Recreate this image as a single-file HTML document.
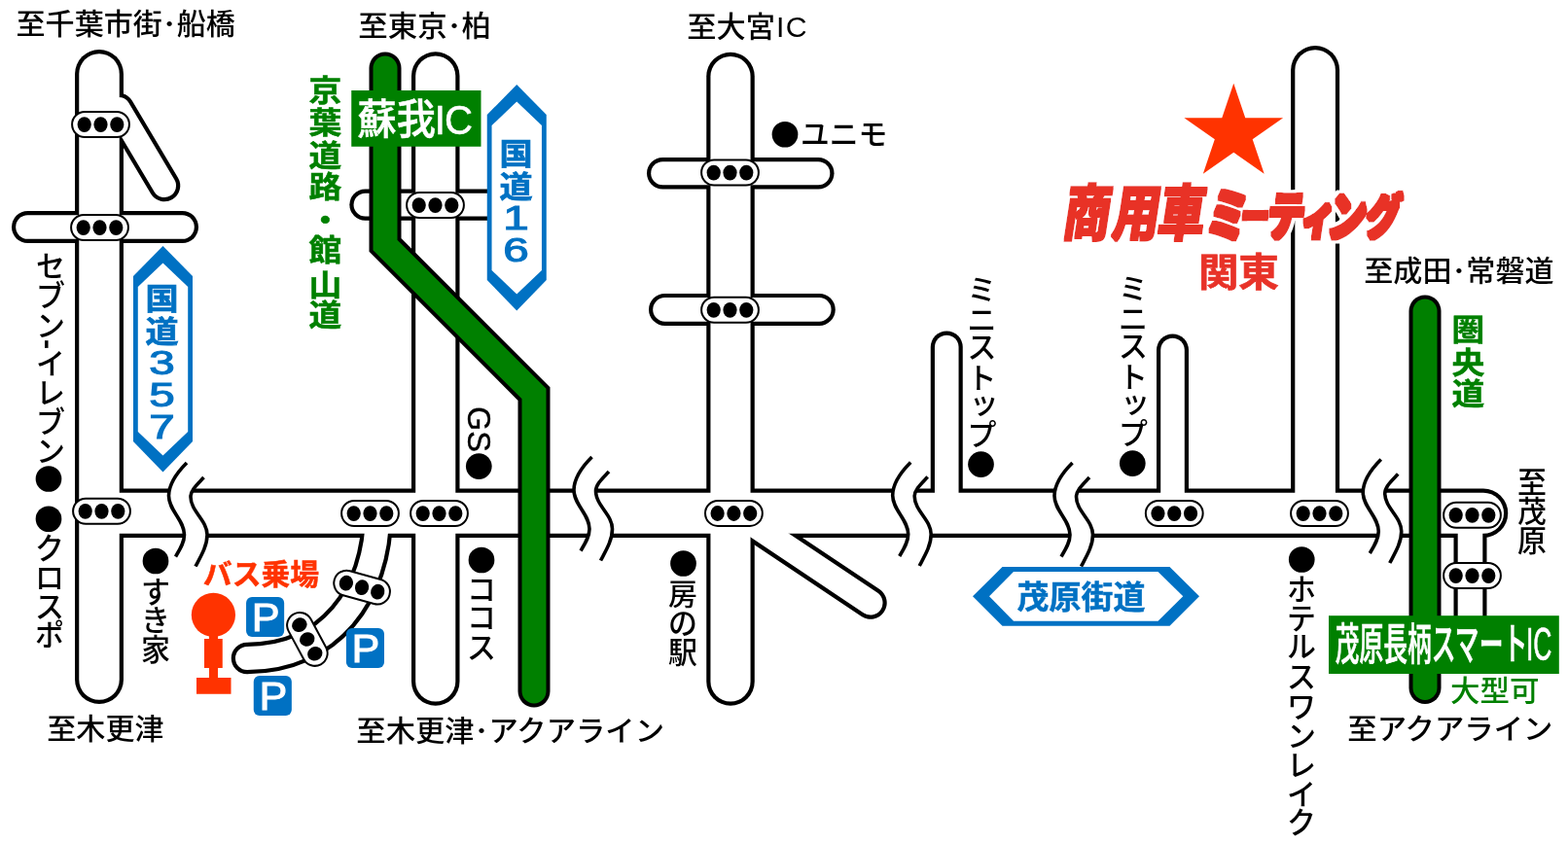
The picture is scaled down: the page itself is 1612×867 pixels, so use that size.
<!DOCTYPE html>
<html lang="ja"><head><meta charset="utf-8"><title>アクセスマップ</title>
<style>
html,body{margin:0;padding:0;background:#fff}
body{width:1612px;height:867px;overflow:hidden}
svg{display:block;font-family:"Liberation Sans", "Noto Sans CJK JP", sans-serif;will-change:transform}
</style></head><body>
<svg width="1612" height="867" viewBox="0 0 1612 867">
<rect width="1612" height="867" fill="#fff"/>
<g fill="none" stroke-linecap="round" stroke-linejoin="round">
<g stroke="#000">
<path d="M102,76 V699" stroke-width="49.9"/>
<path d="M122,112 L169,191" stroke-width="32.5"/>
<path d="M28.5,233.5 H187.5" stroke-width="33"/>
<path d="M102,527.75 H1525" stroke-width="50.5"/>
<path d="M447.75,78 V701" stroke-width="49.5"/>
<path d="M375.5,210.6 H520" stroke-width="32.3"/>
<path d="M751,78.5 V701" stroke-width="49.5"/>
<path d="M681.25,178.25 H841.25" stroke-width="32.5"/>
<path d="M683.5,318.4 H842.25" stroke-width="33"/>
<path d="M764,532.4 L895,620" stroke-width="33.4"/>
<path d="M973.25,357 V527" stroke-width="33"/>
<path d="M1205.5,360 V527" stroke-width="33"/>
<path d="M1352.1,72 V527" stroke-width="50"/>
<path d="M1511.5,527 V650" stroke-width="34"/>
<path d="M388,527 C388,612 338,677 254,677" stroke-width="32.5"/>
</g>
<g stroke="#fff">
<path d="M102,76 V699" stroke-width="41.50"/>
<path d="M122,112 L169,191" stroke-width="24.10"/>
<path d="M28.5,233.5 H187.5" stroke-width="24.60"/>
<path d="M102,527.75 H1525" stroke-width="42.10"/>
<path d="M447.75,78 V701" stroke-width="41.10"/>
<path d="M375.5,210.6 H520" stroke-width="23.90"/>
<path d="M751,78.5 V701" stroke-width="41.10"/>
<path d="M681.25,178.25 H841.25" stroke-width="24.10"/>
<path d="M683.5,318.4 H842.25" stroke-width="24.60"/>
<path d="M764,532.4 L895,620" stroke-width="25.00"/>
<path d="M973.25,357 V527" stroke-width="24.60"/>
<path d="M1205.5,360 V527" stroke-width="24.60"/>
<path d="M1352.1,72 V527" stroke-width="41.60"/>
<path d="M1511.5,527 V650" stroke-width="25.60"/>
<path d="M388,527 C388,612 338,677 254,677" stroke-width="24.10"/>
</g>
</g>
<g fill="none" stroke-linecap="round" stroke-linejoin="miter" stroke-miterlimit="10">
<path d="M396,70 V252 L549,405 V711" stroke="#000" stroke-width="33"/>
<path d="M396,70 V252 L549,405 V711" stroke="#008000" stroke-width="25"/>
<path d="M1465,320 V707.5" stroke="#000" stroke-width="33"/>
<path d="M1465,320 V707.5" stroke="#008000" stroke-width="25"/>
</g>
<g transform="translate(0,0)">
<path d="M192,476 C183,485 173.5,497 173.5,510 C173.5,525 189.5,535 189.5,550 C189.5,558 185,565 180.5,572.5 L201,582.5 C206,573 213,562 213,550 C213,535 196,526 196,511 C196,504 203,498 209.5,491 Z" fill="#fff"/>
<path d="M192,476 C183,485 173.5,497 173.5,510 C173.5,525 189.5,535 189.5,550 C189.5,558 185,565 180.5,572.5" fill="none" stroke="#000" stroke-width="3.6"/>
<path d="M209.5,491 C203,498 196,504 196,511 C196,526 213,535 213,550 C213,562 206,573 201,582.5" fill="none" stroke="#000" stroke-width="3.6"/>
</g>
<g transform="translate(416.5,-6)">
<path d="M192,476 C183,485 173.5,497 173.5,510 C173.5,525 189.5,535 189.5,550 C189.5,558 185,565 180.5,572.5 L201,582.5 C206,573 213,562 213,550 C213,535 196,526 196,511 C196,504 203,498 209.5,491 Z" fill="#fff"/>
<path d="M192,476 C183,485 173.5,497 173.5,510 C173.5,525 189.5,535 189.5,550 C189.5,558 185,565 180.5,572.5" fill="none" stroke="#000" stroke-width="3.6"/>
<path d="M209.5,491 C203,498 196,504 196,511 C196,526 213,535 213,550 C213,562 206,573 201,582.5" fill="none" stroke="#000" stroke-width="3.6"/>
</g>
<g transform="translate(744.2,-0.5)">
<path d="M192,476 C183,485 173.5,497 173.5,510 C173.5,525 189.5,535 189.5,550 C189.5,558 185,565 180.5,572.5 L201,582.5 C206,573 213,562 213,550 C213,535 196,526 196,511 C196,504 203,498 209.5,491 Z" fill="#fff"/>
<path d="M192,476 C183,485 173.5,497 173.5,510 C173.5,525 189.5,535 189.5,550 C189.5,558 185,565 180.5,572.5" fill="none" stroke="#000" stroke-width="3.6"/>
<path d="M209.5,491 C203,498 196,504 196,511 C196,526 213,535 213,550 C213,562 206,573 201,582.5" fill="none" stroke="#000" stroke-width="3.6"/>
</g>
<g transform="translate(910.5,0)">
<path d="M192,476 C183,485 173.5,497 173.5,510 C173.5,525 189.5,535 189.5,550 C189.5,558 185,565 180.5,572.5 L201,582.5 C206,573 213,562 213,550 C213,535 196,526 196,511 C196,504 203,498 209.5,491 Z" fill="#fff"/>
<path d="M192,476 C183,485 173.5,497 173.5,510 C173.5,525 189.5,535 189.5,550 C189.5,558 185,565 180.5,572.5" fill="none" stroke="#000" stroke-width="3.6"/>
<path d="M209.5,491 C203,498 196,504 196,511 C196,526 213,535 213,550 C213,562 206,573 201,582.5" fill="none" stroke="#000" stroke-width="3.6"/>
</g>
<g transform="translate(1227.75,-3.5)">
<path d="M192,476 C183,485 173.5,497 173.5,510 C173.5,525 189.5,535 189.5,550 C189.5,558 185,565 180.5,572.5 L201,582.5 C206,573 213,562 213,550 C213,535 196,526 196,511 C196,504 203,498 209.5,491 Z" fill="#fff"/>
<path d="M192,476 C183,485 173.5,497 173.5,510 C173.5,525 189.5,535 189.5,550 C189.5,558 185,565 180.5,572.5" fill="none" stroke="#000" stroke-width="3.6"/>
<path d="M209.5,491 C203,498 196,504 196,511 C196,526 213,535 213,550 C213,562 206,573 201,582.5" fill="none" stroke="#000" stroke-width="3.6"/>
</g>
<g transform="translate(103.5,128) rotate(0)">
<rect x="-29.4" y="-13" width="58.8" height="26" rx="13" fill="#fff" stroke="#000" stroke-width="2"/>
<ellipse cx="-16.8" cy="0.1" rx="7.1" ry="7.9" fill="#000"/>
<ellipse cx="0" cy="0.1" rx="7.1" ry="7.9" fill="#000"/>
<ellipse cx="16.8" cy="0.1" rx="7.1" ry="7.9" fill="#000"/>
</g>
<g transform="translate(102.5,234) rotate(0)">
<rect x="-29.4" y="-13" width="58.8" height="26" rx="13" fill="#fff" stroke="#000" stroke-width="2"/>
<ellipse cx="-16.8" cy="0.1" rx="7.1" ry="7.9" fill="#000"/>
<ellipse cx="0" cy="0.1" rx="7.1" ry="7.9" fill="#000"/>
<ellipse cx="16.8" cy="0.1" rx="7.1" ry="7.9" fill="#000"/>
</g>
<g transform="translate(104.5,525.75) rotate(0)">
<rect x="-29.4" y="-13" width="58.8" height="26" rx="13" fill="#fff" stroke="#000" stroke-width="2"/>
<ellipse cx="-16.8" cy="0.1" rx="7.1" ry="7.9" fill="#000"/>
<ellipse cx="0" cy="0.1" rx="7.1" ry="7.9" fill="#000"/>
<ellipse cx="16.8" cy="0.1" rx="7.1" ry="7.9" fill="#000"/>
</g>
<g transform="translate(380.5,528) rotate(0)">
<rect x="-29.4" y="-13" width="58.8" height="26" rx="13" fill="#fff" stroke="#000" stroke-width="2"/>
<ellipse cx="-16.8" cy="0.1" rx="7.1" ry="7.9" fill="#000"/>
<ellipse cx="0" cy="0.1" rx="7.1" ry="7.9" fill="#000"/>
<ellipse cx="16.8" cy="0.1" rx="7.1" ry="7.9" fill="#000"/>
</g>
<g transform="translate(451.5,528) rotate(0)">
<rect x="-29.4" y="-13" width="58.8" height="26" rx="13" fill="#fff" stroke="#000" stroke-width="2"/>
<ellipse cx="-16.8" cy="0.1" rx="7.1" ry="7.9" fill="#000"/>
<ellipse cx="0" cy="0.1" rx="7.1" ry="7.9" fill="#000"/>
<ellipse cx="16.8" cy="0.1" rx="7.1" ry="7.9" fill="#000"/>
</g>
<g transform="translate(447.5,211) rotate(0)">
<rect x="-29.4" y="-13" width="58.8" height="26" rx="13" fill="#fff" stroke="#000" stroke-width="2"/>
<ellipse cx="-16.8" cy="0.1" rx="7.1" ry="7.9" fill="#000"/>
<ellipse cx="0" cy="0.1" rx="7.1" ry="7.9" fill="#000"/>
<ellipse cx="16.8" cy="0.1" rx="7.1" ry="7.9" fill="#000"/>
</g>
<g transform="translate(750.5,177.5) rotate(0)">
<rect x="-29.4" y="-13" width="58.8" height="26" rx="13" fill="#fff" stroke="#000" stroke-width="2"/>
<ellipse cx="-16.8" cy="0.1" rx="7.1" ry="7.9" fill="#000"/>
<ellipse cx="0" cy="0.1" rx="7.1" ry="7.9" fill="#000"/>
<ellipse cx="16.8" cy="0.1" rx="7.1" ry="7.9" fill="#000"/>
</g>
<g transform="translate(750.5,318.75) rotate(0)">
<rect x="-29.4" y="-13" width="58.8" height="26" rx="13" fill="#fff" stroke="#000" stroke-width="2"/>
<ellipse cx="-16.8" cy="0.1" rx="7.1" ry="7.9" fill="#000"/>
<ellipse cx="0" cy="0.1" rx="7.1" ry="7.9" fill="#000"/>
<ellipse cx="16.8" cy="0.1" rx="7.1" ry="7.9" fill="#000"/>
</g>
<g transform="translate(754.4,527.9) rotate(0)">
<rect x="-29.4" y="-13" width="58.8" height="26" rx="13" fill="#fff" stroke="#000" stroke-width="2"/>
<ellipse cx="-16.8" cy="0.1" rx="7.1" ry="7.9" fill="#000"/>
<ellipse cx="0" cy="0.1" rx="7.1" ry="7.9" fill="#000"/>
<ellipse cx="16.8" cy="0.1" rx="7.1" ry="7.9" fill="#000"/>
</g>
<g transform="translate(1207.25,528) rotate(0)">
<rect x="-29.4" y="-13" width="58.8" height="26" rx="13" fill="#fff" stroke="#000" stroke-width="2"/>
<ellipse cx="-16.8" cy="0.1" rx="7.1" ry="7.9" fill="#000"/>
<ellipse cx="0" cy="0.1" rx="7.1" ry="7.9" fill="#000"/>
<ellipse cx="16.8" cy="0.1" rx="7.1" ry="7.9" fill="#000"/>
</g>
<g transform="translate(1356.5,528) rotate(0)">
<rect x="-29.4" y="-13" width="58.8" height="26" rx="13" fill="#fff" stroke="#000" stroke-width="2"/>
<ellipse cx="-16.8" cy="0.1" rx="7.1" ry="7.9" fill="#000"/>
<ellipse cx="0" cy="0.1" rx="7.1" ry="7.9" fill="#000"/>
<ellipse cx="16.8" cy="0.1" rx="7.1" ry="7.9" fill="#000"/>
</g>
<g transform="translate(1513.5,529.75) rotate(0)">
<rect x="-29.4" y="-13" width="58.8" height="26" rx="13" fill="#fff" stroke="#000" stroke-width="2"/>
<ellipse cx="-16.8" cy="0.1" rx="7.1" ry="7.9" fill="#000"/>
<ellipse cx="0" cy="0.1" rx="7.1" ry="7.9" fill="#000"/>
<ellipse cx="16.8" cy="0.1" rx="7.1" ry="7.9" fill="#000"/>
</g>
<g transform="translate(1513.5,592) rotate(0)">
<rect x="-29.4" y="-13" width="58.8" height="26" rx="13" fill="#fff" stroke="#000" stroke-width="2"/>
<ellipse cx="-16.8" cy="0.1" rx="7.1" ry="7.9" fill="#000"/>
<ellipse cx="0" cy="0.1" rx="7.1" ry="7.9" fill="#000"/>
<ellipse cx="16.8" cy="0.1" rx="7.1" ry="7.9" fill="#000"/>
</g>
<g transform="translate(372.1,604.1) rotate(15.4)">
<rect x="-29.4" y="-13" width="58.8" height="26" rx="13" fill="#fff" stroke="#000" stroke-width="2"/>
<ellipse cx="-16.8" cy="0.1" rx="7.1" ry="7.9" fill="#000"/>
<ellipse cx="0" cy="0.1" rx="7.1" ry="7.9" fill="#000"/>
<ellipse cx="16.8" cy="0.1" rx="7.1" ry="7.9" fill="#000"/>
</g>
<g transform="translate(315.9,657.4) rotate(61.7)">
<rect x="-29.4" y="-13" width="58.8" height="26" rx="13" fill="#fff" stroke="#000" stroke-width="2"/>
<ellipse cx="-16.8" cy="0.1" rx="7.1" ry="7.9" fill="#000"/>
<ellipse cx="0" cy="0.1" rx="7.1" ry="7.9" fill="#000"/>
<ellipse cx="16.8" cy="0.1" rx="7.1" ry="7.9" fill="#000"/>
</g>
<circle cx="50" cy="492.5" r="13.35" fill="#000"/>
<circle cx="50" cy="533.75" r="13.35" fill="#000"/>
<circle cx="160" cy="577" r="13.35" fill="#000"/>
<circle cx="492.3" cy="479.6" r="13.35" fill="#000"/>
<circle cx="495" cy="576" r="13.35" fill="#000"/>
<circle cx="702.5" cy="579.5" r="13.35" fill="#000"/>
<circle cx="807" cy="138.25" r="13.35" fill="#000"/>
<circle cx="1008.5" cy="477.6" r="13.35" fill="#000"/>
<circle cx="1164.3" cy="476.6" r="13.35" fill="#000"/>
<circle cx="1338.25" cy="575.5" r="13.35" fill="#000"/>
<polygon points="167.5,253 198.0,284 198.0,454.0 167.5,485.5 137.0,454.0 137.0,284" fill="#0071c3"/>
<polygon points="167.5,270.5 193.2,295 193.2,444.0 167.5,468.5 141.8,444.0 141.8,295" fill="#fff"/>
<polygon points="531.25,87 561.75,118 561.75,288.0 531.25,319.5 500.75,288.0 500.75,118" fill="#0071c3"/>
<polygon points="531.25,104.5 556.95,129 556.95,278.0 531.25,302.5 505.55,278.0 505.55,129" fill="#fff"/>
<polygon points="1000,613.25 1030.5,583 1202.5,583 1233,613.25 1202.5,643.75 1030.5,643.75" fill="#0071c3"/>
<polygon points="1017,613.25 1042,588 1190.5,588 1216.25,613.25 1190.5,638.75 1042,638.75" fill="#fff"/>
<rect x="361.25" y="93" width="133.25" height="57.75" fill="#008000"/>
<rect x="1366" y="633.2" width="236.8" height="59.8" fill="#008000"/>
<rect x="253.05" y="613.9" width="39.1" height="41" rx="6" fill="#0071c3"/>
<text font-size="40.8" fill="#fff" stroke="#fff" stroke-width="0.9" text-anchor="middle" transform="translate(273.10,649.00) scale(1.06,1)">P</text>
<rect x="355.9" y="646.1" width="39.1" height="41" rx="6" fill="#0071c3"/>
<text font-size="40.8" fill="#fff" stroke="#fff" stroke-width="0.9" text-anchor="middle" transform="translate(375.95,681.20) scale(1.06,1)">P</text>
<rect x="260.75" y="694.9" width="39.1" height="41" rx="6" fill="#0071c3"/>
<text font-size="40.8" fill="#fff" stroke="#fff" stroke-width="0.9" text-anchor="middle" transform="translate(280.80,730.00) scale(1.06,1)">P</text>
<g fill="#ff3300"><circle cx="219.4" cy="632.4" r="22.6"/><rect x="215" y="650" width="9" height="50"/><rect x="210" y="657" width="18.75" height="30"/><rect x="202" y="697" width="35.5" height="16.75"/></g>
<polygon points="1268.25,85.70 1280.25,121.22 1319.09,121.22 1287.67,143.17 1299.67,178.68 1268.25,156.73 1236.83,178.68 1248.83,143.17 1217.41,121.22 1256.25,121.22" fill="#ff3300"/>
<text font-size="29.6" fill="#000" font-weight="500" transform="translate(16.5,35) scale(1.016,0.99)" >至千葉市街<tspan dx="-3.7" dy="-2.8" font-size="22">・</tspan><tspan dx="-3.7" dy="2.8">船橋</tspan></text>
<text font-size="29.6" fill="#000" font-weight="500" transform="translate(368.3,37) scale(1.028,0.99)" >至東京<tspan dx="-3.7" dy="-2.8" font-size="22">・</tspan><tspan dx="-3.7" dy="2.8">柏</tspan></text>
<text font-size="29.6" fill="#000" font-weight="500" transform="translate(706.3,38.4) scale(1.02,0.99)" >至大宮<tspan dx="1.2" letter-spacing="1.2">IC</tspan></text>
<text font-size="29.6" fill="#000" font-weight="500" transform="translate(1402.3,289) scale(1.016,0.99)" >至成田<tspan dx="-3.7" dy="-2.8" font-size="22">・</tspan><tspan dx="-3.7" dy="2.8">常磐道</tspan></text>
<text font-size="29.6" fill="#000" font-weight="500" transform="translate(48.3,760.3) scale(1.016,0.99)" >至木更津</text>
<text font-size="29.6" fill="#000" font-weight="500" transform="translate(366.3,761.6) scale(1.025,0.99)" >至木更津<tspan dx="-3.7" dy="-2.8" font-size="22">・</tspan><tspan dx="-3.7" dy="2.8">アクアライン</tspan></text>
<text font-size="29.6" fill="#000" font-weight="500" transform="translate(1385.3,759.6) scale(1.027,0.99)" >至アクアライン</text>
<text font-size="28.6" fill="#000" font-weight="500" transform="translate(823,149.3) scale(1.04,1.06)" >ユニモ</text>
<text font-size="29.6" fill="#008000" font-weight="500" transform="translate(1491,721) scale(1.03,0.99)" >大型可</text>
<text x="0 0 0 -6.52 0 0 0 0" y="0.00 29.13 59.22 62.19 96.60 126.21 155.34 184.47" rotate="0 0 0 90 0 0 0 0" font-size="29.5" font-weight="500" text-anchor="middle" transform="translate(52,285.05) scale(1.015,1.03)">セブン<tspan font-weight="700">-</tspan>イレブン</text>
<text x="0.00 0.00 0.00 0.00" y="0.00 29.13 58.25 86.89" font-size="29.5" fill="#000" font-weight="500" text-anchor="middle"  transform="translate(51,574.55) scale(1.015,1.03)">クロスポ</text>
<text x="0.00 0.00 0.00" y="0.00 28.64 57.28" font-size="29.5" fill="#000" font-weight="500" text-anchor="middle"  transform="translate(160,619.55) scale(1.015,1.03)">すき家</text>
<text x="0.00 0.00 0.00" y="0.00 28.16 57.96" font-size="29.5" fill="#000" font-weight="500" text-anchor="middle"  transform="translate(495,616.85) scale(1.015,1.03)">ココス</text>
<text x="0.00 0.00 0.00" y="0.00 29.13 58.25" font-size="29.5" fill="#000" font-weight="500" text-anchor="middle"  transform="translate(702,622.05) scale(1.015,1.03)">房の駅</text>
<text x="0.00 0.00 0.00 0.00 2.17 0.00" y="0.00 29.85 57.28 88.35 112.62 144.66" font-size="29.5" fill="#000" font-weight="500" text-anchor="middle"  transform="translate(1009.5,309.05) scale(1.015,1.03)">ミニストップ</text>
<text x="0.00 0.00 0.00 0.00 2.17 0.00" y="0.00 29.85 57.28 88.35 112.62 144.66" font-size="29.5" fill="#000" font-weight="500" text-anchor="middle"  transform="translate(1165,308.05) scale(1.015,1.03)">ミニストップ</text>
<text x="0.00 0.00 0.00 0.00 0.00 0.00 0.00 0.00 0.00" y="0.00 29.32 57.48 87.09 117.18 146.80 175.44 205.05 233.30" font-size="29.5" fill="#000" font-weight="500" text-anchor="middle"  transform="translate(1338,616.85) scale(1.015,1.03)">ホテルスワンレイク</text>
<text x="0.00 0.00 0.00" y="0.00 29.13 58.25" font-size="29.5" fill="#000" font-weight="500" text-anchor="middle"  transform="translate(1575,507.05) scale(1.015,1.03)">至茂原</text>
<text font-size="32.5" stroke="#000" stroke-width="0.4" text-anchor="middle" transform="translate(481.3,441.5) rotate(90)">GS</text>
<text x="0.00 0.00 0.00 0.00 0.00 0.00 0.00 0.00" y="0.00 32.99 67.51 100.00 134.52 165.99 202.54 234.01" font-size="31" fill="#008000" font-weight="700" text-anchor="middle" stroke="#008000" stroke-width="0.5" transform="translate(334.5,104.10) scale(1.09,0.985)">京葉道路・館山道</text>
<text x="0.00 0.00 0.00" y="0.00 33.76 67.01" font-size="31" fill="#008000" font-weight="700" text-anchor="middle" stroke="#008000" stroke-width="0.5" transform="translate(1509.5,350.35) scale(1.09,0.985)">圏央道</text>
<text x="0.00 0.00" y="0.00 32.69" font-size="30" fill="#0071c3" font-weight="700" text-anchor="middle" stroke="#0071c3" stroke-width="0.7" transform="translate(166.5,318.11) scale(1.137,1.04)">国道</text>
<text x="0.00 0.00" y="0.00 32.69" font-size="30" fill="#0071c3" font-weight="700" text-anchor="middle" stroke="#0071c3" stroke-width="0.7" transform="translate(530.5,169.36) scale(1.137,1.04)">国道</text>
<text font-size="35" font-weight="400" fill="#0071c3" stroke="#0071c3" stroke-width="1.1" text-anchor="middle" transform="translate(166.5,384.80) scale(1.36,1)">3</text>
<text font-size="35" font-weight="400" fill="#0071c3" stroke="#0071c3" stroke-width="1.1" text-anchor="middle" transform="translate(166.5,417.90) scale(1.36,1)">5</text>
<text font-size="35" font-weight="400" fill="#0071c3" stroke="#0071c3" stroke-width="1.1" text-anchor="middle" transform="translate(166.5,451.10) scale(1.36,1)">7</text>
<text font-size="35" font-weight="400" fill="#0071c3" stroke="#0071c3" stroke-width="1.1" text-anchor="middle" transform="translate(530.5,235.70) scale(1.36,1)">1</text>
<text font-size="35" font-weight="400" fill="#0071c3" stroke="#0071c3" stroke-width="1.1" text-anchor="middle" transform="translate(530.5,268.70) scale(1.36,1)">6</text>
<text font-size="33" fill="#0071c3" font-weight="700" transform="translate(1045.5,626) scale(1.0,1.0)" stroke="#0071c3" stroke-width="0.5">茂原街道</text>
<text font-size="40.5" font-weight="500" fill="#fff" stroke="#fff" stroke-width="0.5" transform="translate(367.5,138) scale(0.992,1.063)">蘇我<tspan dx="-1" letter-spacing="-1">IC</tspan></text>
<text font-size="43" font-weight="500" fill="#fff" stroke="#fff" stroke-width="0.7" transform="translate(1372.8,679.2) scale(0.576,1.05)">茂原長柄スマート<tspan font-size="46" dx="-2">IC</tspan></text>
<text font-size="39.5" fill="#e83228" font-weight="700" transform="translate(1231.9,293.5) scale(1.05,1.0)" stroke="#e83228" stroke-width="0.7">関東</text>
<text font-size="29.5" font-weight="700" fill="#ff3300" stroke="#ff3300" stroke-width="0.5" transform="translate(208.8,601.2) scale(1.012,1.0)">バス乗場</text>
<filter id="fatA" x="-5%" y="-15%" width="110%" height="130%"><feMorphology in="SourceGraphic" operator="dilate" radius="1.1"/></filter>
<filter id="fatB" x="-5%" y="-15%" width="110%" height="130%"><feMorphology in="SourceGraphic" operator="dilate" radius="1.6"/></filter>
<filter id="halo" x="-5%" y="-15%" width="110%" height="130%"><feMorphology in="SourceAlpha" operator="dilate" radius="3.4" result="d"/><feFlood flood-color="#fff"/><feComposite in2="d" operator="in" result="w"/><feMerge><feMergeNode in="w"/><feMergeNode in="SourceGraphic"/></feMerge></filter>
<g filter="url(#halo)" font-weight="900" fill="#e83228">
<g filter="url(#fatA)">
<text font-size="62.9" transform="translate(1090.3,242.2) skewX(-8.7) scale(0.76,1)"><tspan x="1.41" y="0.00">商</tspan><tspan x="68.18" y="0.00">用</tspan><tspan x="129.31" y="0.00">車</tspan></text>
</g>
<g filter="url(#fatB)">
<text font-size="54" transform="translate(1233.3,242.2) skewX(-8.7) scale(0.7,1)"><tspan x="7.16" y="0.30" font-size="59">ミ</tspan><tspan x="57.16" y="-5.50" font-size="40">ー</tspan><tspan x="95.51" y="0.00">テ</tspan><tspan x="146.28" y="-1.00" font-size="48">ィ</tspan><tspan x="185.64" y="0.50" font-size="55">ン</tspan><tspan x="240.52" y="-1.50" font-size="49.5">グ</tspan></text>
</g>
</g>
</svg>
</body></html>
